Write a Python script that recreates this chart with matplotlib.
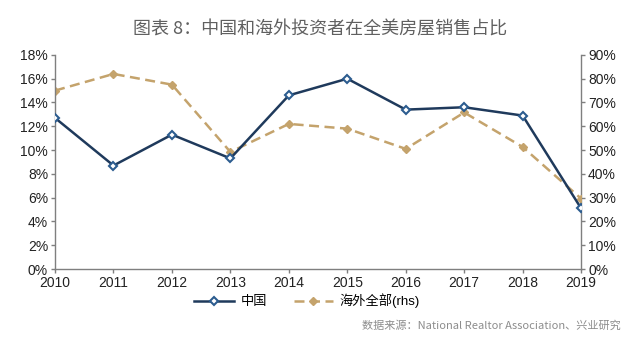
import numpy as np
import matplotlib
matplotlib.use("Agg")
import matplotlib.pyplot as plt
from matplotlib.ticker import FuncFormatter

plt.rcParams['font.family'] = ['Liberation Sans', 'Noto Sans CJK SC', 'DejaVu Sans']

# ── data ─────────────────────────────────────────────
years = [2010, 2011, 2012, 2013, 2014, 2015, 2016, 2017, 2018, 2019]
china = [12.7, 8.7, 11.3, 9.3, 14.6, 16.0, 13.4, 13.6, 12.9, 5.1]          # % (lhs)
overseas = [75.0, 82.0, 77.5, 49.2, 61.0, 59.0, 50.5, 65.8, 51.3, 29.6]     # % (rhs)

NAVY = "#1f3a5c"
NAVY_EDGE = "#2c5c8f"
TAN = "#c4a36c"
AXC = "#7f7f7f"

fig = plt.figure(figsize=(6.4, 3.41), dpi=100, facecolor="white")
ax = fig.add_axes([0.086, 0.211, 0.822, 0.628])
ax2 = ax.twinx()

x = np.arange(len(years))

ax.plot(x, china, color=NAVY, lw=1.8, marker="D", ms=4.5,
        mfc="white", mec=NAVY_EDGE, mew=1.5, zorder=4, label="中国")
ax2.plot(x, overseas, color=TAN, lw=1.8, ls=(0, (4, 2.2)), marker="D", ms=4.5,
         mfc=TAN, mec=TAN, zorder=3, label="海外全部(rhs)")

ax.set_zorder(ax2.get_zorder() + 1)
ax.patch.set_visible(False)

ax.set_xlim(0, len(years) - 1)
ax.set_ylim(0, 18)
ax2.set_ylim(0, 90)
ax.set_yticks(np.arange(0, 19, 2))
ax2.set_yticks(np.arange(0, 91, 10))
ax.yaxis.set_major_formatter(FuncFormatter(lambda v, p: f"{v:.0f}%"))
ax2.yaxis.set_major_formatter(FuncFormatter(lambda v, p: f"{v:.0f}%"))
ax.set_xticks(x)
ax.set_xticklabels([str(y) for y in years])

for a in (ax, ax2):
    a.spines['top'].set_visible(False)
    for s in ('left', 'right', 'bottom'):
        a.spines[s].set_color(AXC)
        a.spines[s].set_linewidth(1.0)
    a.tick_params(axis='both', direction='out', length=3, width=1, color=AXC,
                  labelsize=10, labelcolor="#222222", pad=2)
ax.spines['right'].set_visible(False)
ax2.spines['left'].set_visible(False)
ax2.spines['bottom'].set_visible(False)

# legend
h1, l1 = ax.get_legend_handles_labels()
h2, l2 = ax2.get_legend_handles_labels()
fig.legend(h1 + h2, l1 + l2, loc='center', bbox_to_anchor=(0.48, 0.118), ncol=2,
           frameon=False, fontsize=9.5, handlelength=3.0, columnspacing=2.0,
           handletextpad=0.5)

fig.text(0.5, 0.915, "图表 8：中国和海外投资者在全美房屋销售占比",
         ha='center', va='center', fontsize=13, color="#606060",
         family=['Noto Sans CJK SC', 'DejaVu Sans'])
fig.text(0.97, 0.045, "数据来源：National Realtor Association、兴业研究",
         ha='right', va='center', fontsize=8, color="#8c8c8c",
         family=['Noto Sans CJK SC', 'DejaVu Sans'])

fig.savefig("out.png", dpi=100, facecolor="white")
